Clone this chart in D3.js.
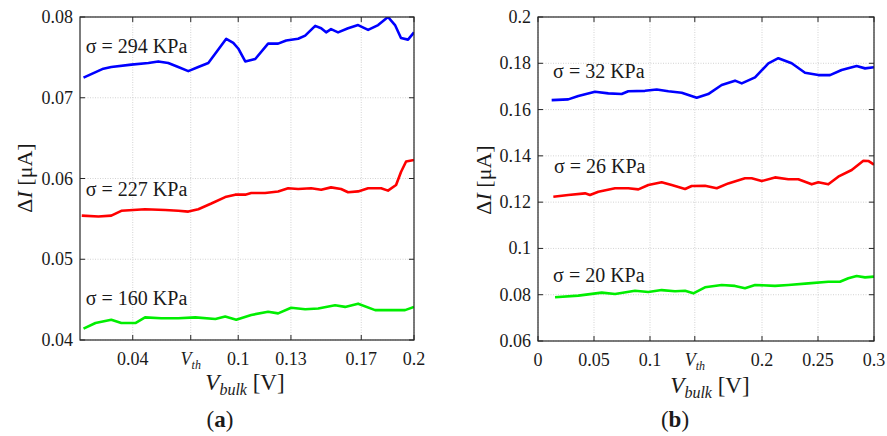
<!DOCTYPE html>
<html lang="en">
<head>
<meta charset="UTF-8">
<title>Delta I vs V bulk</title>
<script src="https://d3js.org/d3.v7.min.js"></script>
<style>
    body, html { margin: 0; padding: 0; background: #fff; overflow: hidden; }
    svg { display: block; }
    text { font-family: "Liberation Serif", "Times New Roman", serif; fill: #1a1a1a; }
</style>
</head>
<body>
<svg id="chart" width="887" height="436"></svg>
<script>

// ---- panel (a) data: [Vbulk (V), dI (uA)] ----
const a294 = [[0.012,0.0725],[0.0233,0.0736],[0.0278,0.0738],[0.0392,0.0741],[0.0489,0.0743],[0.0545,0.0745],
    [0.0602,0.0743],[0.0659,0.0738],[0.0716,0.0733],[0.0773,0.0738],[0.083,0.0743],[0.0932,0.0773],[0.0972,0.0768],
    [0.1,0.0761],[0.104,0.0745],[0.1097,0.0748],[0.117,0.0767],[0.1227,0.0767],[0.1273,0.0771],[0.1341,0.0773],
    [0.1381,0.0777],[0.1438,0.0789],[0.1472,0.0786],[0.15,0.0781],[0.1528,0.0785],[0.1568,0.0781],[0.1625,0.0786],
    [0.1682,0.079],[0.1739,0.0784],[0.1796,0.079],[0.1852,0.08],[0.1892,0.079],[0.1926,0.0774],[0.1966,0.0772],[0.2,0.0781]];
const a227 = [[0.011,0.0554],[0.0205,0.0553],[0.0278,0.0554],[0.0335,0.056],[0.047,0.0562],[0.0585,0.0561],
    [0.0659,0.056],[0.0716,0.0559],[0.0773,0.0562],[0.0847,0.0569],[0.0926,0.0577],[0.0983,0.058],[0.104,0.058],
    [0.1074,0.0582],[0.1153,0.0582],[0.1227,0.0584],[0.1284,0.0588],[0.1341,0.0587],[0.1415,0.0588],[0.1472,0.0586],
    [0.1528,0.0589],[0.1585,0.0587],[0.1625,0.0583],[0.1682,0.0584],[0.1739,0.0588],[0.1813,0.0588],[0.1852,0.0585],
    [0.1898,0.0592],[0.1926,0.0608],[0.1955,0.0621],[0.2,0.0623]];
const a160 = [[0.012,0.0414],[0.0188,0.0421],[0.0278,0.0425],[0.0335,0.0421],[0.0415,0.0421],[0.047,0.0428],
    [0.0562,0.0427],[0.0659,0.0427],[0.0756,0.0428],[0.087,0.0426],[0.0926,0.0429],[0.0989,0.0425],[0.1074,0.0431],
    [0.117,0.0435],[0.1227,0.0433],[0.1301,0.044],[0.1381,0.0438],[0.1455,0.0439],[0.1551,0.0443],[0.1608,0.0441],
    [0.1682,0.0445],[0.1779,0.0437],[0.1892,0.0437],[0.1949,0.0437],[0.2,0.0441]];

// ---- panel (b) data ----
const b32 = [[0.0122,0.1641],[0.027,0.1644],[0.036,0.1659],[0.0509,0.1677],[0.0628,0.167],[0.0747,0.1667],
    [0.0806,0.1679],[0.0955,0.1681],[0.106,0.1687],[0.1164,0.1679],[0.1283,0.1673],[0.1417,0.1651],[0.152,0.1667],
    [0.164,0.1706],[0.1759,0.1725],[0.1819,0.1713],[0.1938,0.1739],[0.2057,0.18],[0.2146,0.1822],[0.2265,0.18],
    [0.2384,0.1759],[0.2503,0.1749],[0.2607,0.1749],[0.2711,0.1771],[0.2845,0.1788],[0.292,0.1778],[0.3,0.1783]];
const b26 = [[0.0137,0.1223],[0.027,0.1231],[0.042,0.1238],[0.0464,0.1231],[0.0539,0.1245],[0.0688,0.126],
    [0.0806,0.126],[0.0896,0.1255],[0.0985,0.1274],[0.1104,0.1286],[0.1194,0.1274],[0.1313,0.1257],[0.1372,0.127],
    [0.1491,0.1271],[0.1596,0.126],[0.1699,0.1281],[0.1848,0.1303],[0.1908,0.1303],[0.1997,0.1291],[0.2116,0.1307],
    [0.2235,0.1299],[0.2324,0.1299],[0.2444,0.1277],[0.2503,0.1286],[0.2592,0.1277],[0.2681,0.131],[0.2801,0.1339],
    [0.2905,0.1379],[0.2949,0.1378],[0.3,0.1362]];
const b20 = [[0.0152,0.0789],[0.036,0.0796],[0.0569,0.0809],[0.0688,0.0803],[0.0866,0.0817],[0.0985,0.0812],
    [0.1104,0.082],[0.1223,0.0815],[0.1313,0.0817],[0.1387,0.0806],[0.1491,0.0832],[0.164,0.0842],[0.1759,0.0838],
    [0.1848,0.0828],[0.1938,0.0842],[0.2116,0.0838],[0.2235,0.0842],[0.2413,0.0849],[0.2592,0.0856],[0.2696,0.0856],
    [0.2771,0.0871],[0.2845,0.0881],[0.292,0.0875],[0.3,0.0878]];

// ticks (Vth replaces a numeric tick in each panel)
const aXTicks = [0.04, 0.073, 0.1, 0.13, 0.17, 0.2];
const aXLabels = ["0.04", "Vth", "0.1", "0.13", "0.17", "0.2"];
const aYTicks = [0.04, 0.05, 0.06, 0.07, 0.08];
const bXTicks = [0, 0.05, 0.1, 0.14, 0.2, 0.25, 0.3];
const bXLabels = ["0", "0.05", "0.1", "Vth", "0.2", "0.25", "0.3"];
const bYTicks = [0.06, 0.08, 0.1, 0.12, 0.14, 0.16, 0.18, 0.2];
const bYLabels = ["0.06", "0.08", "0.1", "0.12", "0.14", "0.16", "0.18", "0.2"];

const aSeries = [
    {data: a294, color: "#0000ff", label: "\u03c3 = 294 KPa", lx: 0.0133, ly: 0.0756},
    {data: a227, color: "#ff0000", label: "\u03c3 = 227 KPa", lx: 0.0133, ly: 0.0578},
    {data: a160, color: "#00ee00", label: "\u03c3 = 160 KPa", lx: 0.0133, ly: 0.0443}
];
const bSeries = [
    {data: b32, color: "#0000ff", label: "\u03c3 = 32 KPa", lx: 0.0135, ly: 0.1736},
    {data: b26, color: "#ff0000", label: "\u03c3 = 26 KPa", lx: 0.0142, ly: 0.1325},
    {data: b20, color: "#00ee00", label: "\u03c3 = 20 KPa", lx: 0.0135, ly: 0.0857}
];

const svg = d3.select("#chart");

function panel(opt) {
    const x = d3.scaleLinear().domain(opt.xDomain).range([opt.left, opt.right]);
    const y = d3.scaleLinear().domain(opt.yDomain).range([opt.bottom, opt.top]);
    const g = svg.append("g");

    g.append("rect")
        .attr("x", opt.left).attr("y", opt.top)
        .attr("width", opt.right - opt.left).attr("height", opt.bottom - opt.top)
        .attr("fill", "#fff");

    // grid
    g.selectAll(".vg").data(opt.xTicks).join("line")
        .attr("x1", d => x(d)).attr("x2", d => x(d))
        .attr("y1", opt.top).attr("y2", opt.bottom)
        .attr("stroke", "#c8c8c8").attr("stroke-width", 0.8).attr("stroke-dasharray", "1,1.5");
    g.selectAll(".hg").data(opt.yTicks).join("line")
        .attr("x1", opt.left).attr("x2", opt.right)
        .attr("y1", d => y(d)).attr("y2", d => y(d))
        .attr("stroke", "#c8c8c8").attr("stroke-width", 0.8).attr("stroke-dasharray", "1,1.5");

    // clip for lines
    const cid = "clip" + opt.id;
    svg.append("clipPath").attr("id", cid).append("rect")
        .attr("x", opt.left).attr("y", opt.top)
        .attr("width", opt.right - opt.left).attr("height", opt.bottom - opt.top);

    const line = d3.line().x(d => x(d[0])).y(d => y(d[1]));
    g.append("g").attr("clip-path", `url(#${cid})`)
        .selectAll("path").data(opt.series).join("path")
        .attr("d", d => line(d.data))
        .attr("fill", "none")
        .attr("stroke", d => d.color)
        .attr("stroke-width", 2.6)
        .attr("stroke-linejoin", "round");

    // series labels
    g.selectAll(".sl").data(opt.series).join("text")
        .attr("x", d => x(d.lx)).attr("y", d => y(d.ly))
        .attr("font-size", 20)
        .text(d => d.label);

    // inward ticks on all sides
    const tl = 5;
    const tk = g.append("g").attr("stroke", "#262626").attr("stroke-width", 1);
    opt.xTicks.forEach(t => {
        tk.append("line").attr("x1", x(t)).attr("x2", x(t)).attr("y1", opt.bottom).attr("y2", opt.bottom - tl);
        tk.append("line").attr("x1", x(t)).attr("x2", x(t)).attr("y1", opt.top).attr("y2", opt.top + tl);
    });
    opt.yTicks.forEach(t => {
        tk.append("line").attr("x1", opt.left).attr("x2", opt.left + tl).attr("y1", y(t)).attr("y2", y(t));
        tk.append("line").attr("x1", opt.right).attr("x2", opt.right - tl).attr("y1", y(t)).attr("y2", y(t));
    });

    // frame
    g.append("rect")
        .attr("x", opt.left).attr("y", opt.top)
        .attr("width", opt.right - opt.left).attr("height", opt.bottom - opt.top)
        .attr("fill", "none").attr("stroke", "#262626").attr("stroke-width", 1.2);

    // y tick labels
    g.selectAll(".yl").data(opt.yTicks).join("text")
        .attr("x", opt.left - 7).attr("y", d => y(d))
        .attr("text-anchor", "end").attr("dominant-baseline", "central")
        .attr("font-size", 18)
        .text((d, i) => opt.yLabels[i]);

    // x tick labels
    opt.xTicks.forEach((t, i) => {
        const lab = opt.xLabels[i];
        const tx = g.append("text")
            .attr("x", x(t)).attr("y", opt.bottom + 25)
            .attr("text-anchor", "middle").attr("font-size", 18);
        if (lab === "Vth") {
            tx.append("tspan").attr("font-style", "italic").text("V");
            tx.append("tspan").attr("font-style", "italic").attr("font-size", 12).attr("dy", 4).text("th");
        } else {
            tx.text(lab);
        }
    });

    // x axis label
    const xl = g.append("text")
        .attr("x", opt.xLabelX).attr("y", opt.xLabelY)
        .attr("text-anchor", "middle").attr("font-size", 23);
    xl.append("tspan").attr("font-style", "italic").text("V");
    xl.append("tspan").attr("font-style", "italic").attr("font-size", 16).attr("dy", 5).text("bulk");
    xl.append("tspan").attr("dy", -5).text(" [V]");

    // y axis label
    const yl = g.append("text")
        .attr("transform", `translate(${opt.yLabelX},${opt.yLabelY}) rotate(-90)`)
        .attr("text-anchor", "middle").attr("font-size", 22);
    yl.append("tspan").text("\u0394");
    yl.append("tspan").attr("font-style", "italic").text("I");
    yl.append("tspan").text(" [\u03bcA]");

    // panel tag
    const tag = g.append("text")
        .attr("x", opt.tagX).attr("y", 427)
        .attr("text-anchor", "middle").attr("font-size", 23);
    tag.append("tspan").text("(");
    tag.append("tspan").attr("font-weight", "bold").text(opt.tag);
    tag.append("tspan").text(")");
}

panel({
    id: "a", left: 80, right: 414, top: 17, bottom: 340,
    xDomain: [0.01, 0.2], yDomain: [0.04, 0.08],
    xTicks: aXTicks, xLabels: aXLabels,
    yTicks: aYTicks, yLabels: aYTicks.map(d => d.toString()),
    series: aSeries,
    xLabelX: 245, xLabelY: 390, yLabelX: 32, yLabelY: 178,
    tagX: 220, tag: "a"
});

panel({
    id: "b", left: 538, right: 874, top: 17, bottom: 341,
    xDomain: [0, 0.3], yDomain: [0.06, 0.2],
    xTicks: bXTicks, xLabels: bXLabels,
    yTicks: bYTicks, yLabels: bYLabels,
    series: bSeries,
    xLabelX: 710, xLabelY: 393, yLabelX: 491, yLabelY: 180,
    tagX: 675, tag: "b"
});

</script>
</body>
</html>
